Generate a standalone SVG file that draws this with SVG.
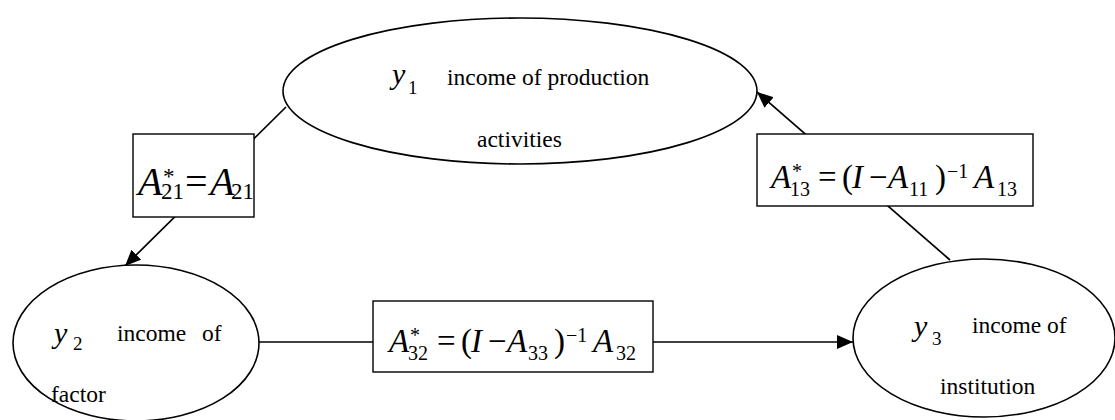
<svg xmlns="http://www.w3.org/2000/svg" width="1115" height="420" viewBox="0 0 1115 420">
<style>
.node{fill:#fff;stroke:#000;stroke-width:1.6}
.box{fill:#fff;stroke:#000;stroke-width:1.4}
.edge{fill:none;stroke:#000;stroke-width:1.7}
text{font-family:"Liberation Serif","Times New Roman","DejaVu Serif",serif;fill:#000}
.t{font-size:23.5px}
.v{font-size:30px;font-style:italic}
.vs{font-size:19px}
.m{font-size:33px}
.mi{font-size:33px;font-style:italic}
.ms{font-size:20px}
.big{font-size:40px}
.bigi{font-size:40px;font-style:italic}
.bs{font-size:23px}
</style>
<defs>
<marker id="arr" markerUnits="userSpaceOnUse" markerWidth="17" markerHeight="15" refX="16" refY="7" orient="auto">
<path d="M0,0 L16,7 L0,14 z" fill="#000"/>
</marker>
</defs>
<g id="connectors">
<line class="edge" x1="286" y1="107" x2="125" y2="266" marker-end="url(#arr)"/>
<line class="edge" x1="259" y1="342" x2="853" y2="342" marker-end="url(#arr)"/>
<line class="edge" x1="950" y1="260" x2="757" y2="92" marker-end="url(#arr)"/>
</g>
<g id="y1">
<ellipse class="node" cx="520" cy="91" rx="237" ry="73"/>
<text class="v" x="392" y="84">y</text>
<text class="vs" x="408" y="94">1</text>
<text class="t" x="447" y="85">income of production</text>
<text class="t" x="477" y="147">activities</text>
</g>
<g id="y2">
<ellipse class="node" cx="136" cy="343" rx="123" ry="78"/>
<text class="v" x="54" y="343">y</text>
<text class="vs" x="73" y="350">2</text>
<text class="t" y="341"><tspan x="117">income</tspan><tspan x="202">of</tspan></text>
<text class="t" x="51" y="402">factor</text>
</g>
<g id="y3">
<ellipse class="node" cx="984" cy="338" rx="131" ry="79"/>
<text class="v" x="914" y="336">y</text>
<text class="vs" x="932" y="345">3</text>
<text class="t" x="972" y="333">income of</text>
<text class="t" x="940" y="394">institution</text>
</g>
<g id="label-a21">
<rect class="box" x="133" y="134" width="121" height="83"/>
<text class="bigi" x="138" y="195">A</text>
<text class="bs" x="163" y="184">*</text>
<text class="bs" x="161" y="199">21</text>
<text class="big" x="185" y="195">=</text>
<text class="bigi" x="210" y="195">A</text>
<text class="bs" x="231" y="199">21</text>
</g>
<g id="label-a32">
<rect class="box" x="373" y="301" width="280" height="71"/>
<text class="mi" x="389" y="352">A</text>
<text class="ms" x="410" y="342">*</text>
<text class="ms" x="408" y="360">32</text>
<text class="m" x="437" y="352">=</text>
<text class="m" x="461" y="352">(</text>
<text class="mi" x="471" y="352">I</text>
<text class="m" x="488" y="352">−</text>
<text class="mi" x="507" y="352">A</text>
<text class="ms" x="528" y="360">33</text>
<text class="m" x="554" y="352">)</text>
<text class="ms" x="566" y="342">−1</text>
<text class="mi" x="593" y="352">A</text>
<text class="ms" x="616" y="360">32</text>
</g>
<g id="label-a13">
<rect class="box" x="757" y="134" width="276" height="72"/>
<text class="mi" x="771" y="188">A</text>
<text class="ms" x="792" y="178">*</text>
<text class="ms" x="790" y="196">13</text>
<text class="m" x="818" y="188">=</text>
<text class="m" x="842" y="188">(</text>
<text class="mi" x="852" y="188">I</text>
<text class="m" x="869" y="188">−</text>
<text class="mi" x="888" y="188">A</text>
<text class="ms" x="909" y="196">11</text>
<text class="m" x="935" y="188">)</text>
<text class="ms" x="947" y="178">−1</text>
<text class="mi" x="974" y="188">A</text>
<text class="ms" x="997" y="196">13</text>
</g>
</svg>
